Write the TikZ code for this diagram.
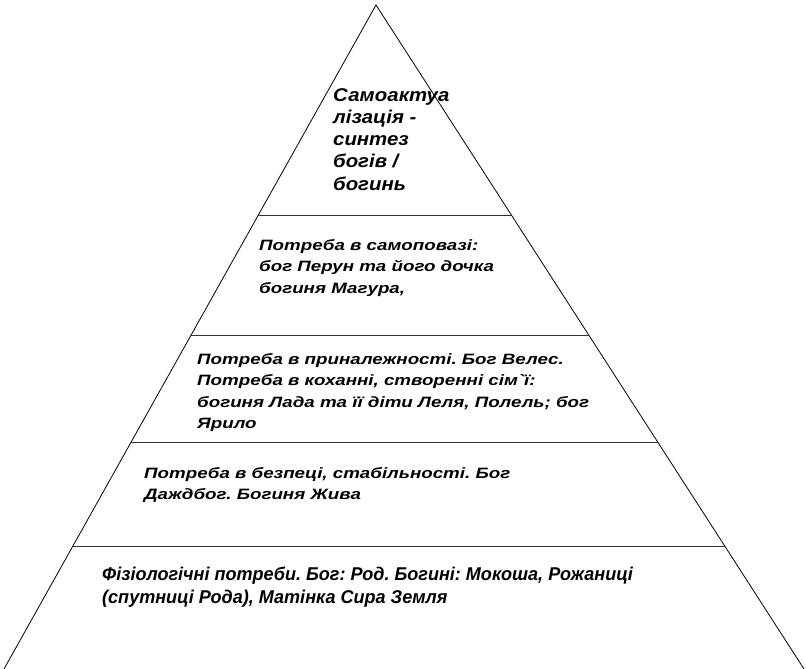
\documentclass[tikz,border=0pt]{standalone}
\usepackage{fontspec}
\setmainfont{Liberation Sans}
\newfontfamily\pyrtop{Liberation Sans}[FakeStretch=1.1]
\newfontfamily\pyrmid{Liberation Sans}[FakeStretch=1.25]
\newfontfamily\pyrbase{Liberation Sans}[FakeStretch=0.975]
\usetikzlibrary{calc}
\tikzset{
  edge/.style={draw=black, line width=0.8pt},
  lvl/.style={draw=black!80, line width=1pt},
  txt/.style={inner sep=0pt, anchor=base west, text=black}
}
\newcommand{\pyrA}{\pyrtop\bfseries\itshape\fontsize{18.5}{22.3}\selectfont}
\newcommand{\pyrB}{\pyrmid\bfseries\itshape\fontsize{15}{21.5}\selectfont}
\newcommand{\pyrC}{\pyrbase\bfseries\itshape\fontsize{18.5}{23}\selectfont}
\frenchspacing
\begin{document}
\begin{tikzpicture}[x=1pt,y=-1pt]
\useasboundingbox (0,0) rectangle (806,669);
\fill[white] (0,0) rectangle (806,669);
\coordinate (apex) at (376,5);
\coordinate (bl) at (4,669);
\coordinate (br) at (804,669);
\draw[edge] (bl) -- (apex) -- (br);
\foreach \t/\n in {0.3163/1,0.4970/2,0.6596/3,0.8148/4}{
  \coordinate (L\n) at ($(apex)!\t!(bl)$);
  \coordinate (R\n) at ($(apex)!\t!(br)$);
  \draw[lvl] (L\n) -- (R\n);
}
\node[txt] (t1) at (333,101) {\pyrA\begin{tabular}[t]{@{}l@{}}Самоактуа\\лізація -\\синтез\\богів /\\богинь\end{tabular}};
\node[txt] (t2) at (259,250) {\pyrB\begin{tabular}[t]{@{}l@{}}Потреба в самоповазі:\\бог Перун та його дочка\\богиня Магура,\end{tabular}};
\node[txt] (t3) at (197,364) {\pyrB\begin{tabular}[t]{@{}l@{}}Потреба в приналежності. Бог Велес.\\Потреба в коханні, створенні сім`ї:\\богиня Лада та її діти Леля, Полель; бог\\Ярило\end{tabular}};
\node[txt] (t4) at (144,478) {\pyrB\begin{tabular}[t]{@{}l@{}}Потреба в безпеці, стабільності. Бог\\Даждбог. Богиня Жива\end{tabular}};
\node[txt] (t5) at (102,580) {\pyrC\begin{tabular}[t]{@{}l@{}}Фізіологічні потреби. Бог: Род. Богині: Мокоша, Рожаниці\\(спутниці Рода), Матінка Сира Земля\end{tabular}};
\end{tikzpicture}
\end{document}
